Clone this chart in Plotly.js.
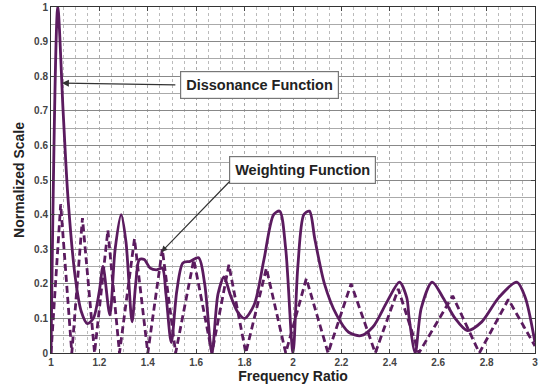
<!DOCTYPE html>
<html>
<head>
<meta charset="utf-8">
<script src="https://cdn.plot.ly/plotly-3.0.1.min.js"></script>
<style>html,body{margin:0;padding:0;background:#fff;}#chart{width:541px;height:387px;}</style>
</head>
<body>
<div id="chart"></div>
<script>
// Dissonance function (solid)
const dissX = [1.000,1.028,1.05,1.07,1.10,1.125,1.15,1.175,1.20,1.215,1.243,1.265,1.29,1.31,1.335,1.35,1.365,1.385,1.41,1.435,1.46,1.475,1.497,1.52,1.545,1.575,1.61,1.635,1.665,1.69,1.715,1.74,1.77,1.80,1.84,1.88,1.92,1.945,1.97,2.0,2.02,2.045,2.068,2.09,2.13,2.18,2.23,2.28,2.33,2.39,2.44,2.47,2.48,2.505,2.53,2.575,2.62,2.67,2.72,2.78,2.85,2.925,2.96,3.0];
const dissY = [0.0,1.0,0.70,0.45,0.22,0.12,0.085,0.10,0.18,0.25,0.11,0.30,0.40,0.32,0.09,0.20,0.27,0.27,0.245,0.24,0.245,0.17,0.03,0.18,0.26,0.265,0.275,0.20,0.0,0.17,0.22,0.17,0.12,0.10,0.14,0.27,0.40,0.41,0.30,0.0,0.25,0.40,0.41,0.33,0.20,0.11,0.06,0.05,0.075,0.15,0.205,0.16,0.10,0.0,0.13,0.205,0.16,0.10,0.065,0.09,0.16,0.205,0.16,0.03];
// Weighting function (dashed)
const weightX = [1.0,1.04,1.086,1.13,1.18,1.235,1.283,1.345,1.40,1.46,1.515,1.59,1.665,1.735,1.805,1.89,1.97,2.055,2.145,2.24,2.34,2.435,2.52,2.66,2.77,2.89,3.0];
const weightY = [0,0.43,0,0.39,0,0.355,0,0.33,0,0.30,0,0.27,0,0.255,0,0.245,0,0.215,0,0.20,0,0.185,0,0.165,0,0.155,0.02];
const xTicks = [1,1.2,1.4,1.6,1.8,2,2.2,2.4,2.6,2.8,3];
const xTickText = ['1','1.2','1.4','1.6','1.8','2','2.2','2.4','2.6','2.8','3'];
const yTicks = [0,0.1,0.2,0.3,0.4,0.5,0.6,0.7,0.8,0.9,1];
const yTickText = ['0','0.1','0.2','0.3','0.4','0.5','0.6','0.7','0.8','0.9','1'];

const purple = '#5b1b5f';
const traces = [
  {x: weightX, y: weightY, mode:'lines', line:{color:purple, width:2.8, dash:'7px,4px'}, hoverinfo:'skip'},
  {x: dissX, y: dissY, mode:'lines', line:{color:purple, width:2.8, shape:'spline', smoothing:0.8}, hoverinfo:'skip'}
];
const fam = 'Liberation Sans, Arial, sans-serif';
const layout = {
  width:541, height:387,
  margin:{l:51, r:6, t:7, b:34},
  paper_bgcolor:'#fff', plot_bgcolor:'#fff',
  showlegend:false,
  font:{family:fam, color:'#222'},
  xaxis:{range:[1,3], tickvals:xTicks, ticktext:xTickText, ticks:'inside', ticklen:4, tickcolor:'#444',
    showgrid:true, gridcolor:'#aaa', gridwidth:1, griddash:'dot',
    minor:{dtick:0.05, tick0:1, showgrid:true, gridcolor:'#bbb', griddash:'dot', gridwidth:1},
    showline:true, linecolor:'#333', linewidth:1, mirror:'ticks', zeroline:false,
    ticklabeloverflow:'allow',
    tickfont:{size:10, family:fam, color:'#444', weight:'bold'},
    title:{text:'Frequency Ratio', font:{size:14, family:fam, color:'#222', weight:'bold'}, standoff:2}},
  yaxis:{range:[0,1], tickvals:yTicks, ticktext:yTickText, ticks:'inside', ticklen:4, tickcolor:'#444',
    showgrid:true, gridcolor:'#888', gridwidth:1,
    minor:{dtick:0.05, tick0:0, showgrid:true, gridcolor:'#aaa', gridwidth:1},
    showline:true, linecolor:'#333', linewidth:1, mirror:'ticks', zeroline:false,
    tickfont:{size:10, family:fam, color:'#444', weight:'bold'},
    title:{text:'Normalized Scale', font:{size:14, family:fam, color:'#222', weight:'bold'}, standoff:6}},
  annotations:[
    {x:1.862, y:0.775, xref:'x', yref:'y', text:'<b>Dissonance Function</b>', showarrow:false,
     font:{size:14.5, family:fam, color:'#222'}, bgcolor:'#fff', bordercolor:'#777', borderwidth:1.2, borderpad:5},
    {x:1.045, y:0.78, xref:'x', yref:'y', text:'', showarrow:true, axref:'x', ayref:'y', ax:1.52, ay:0.775,
     arrowhead:2, arrowsize:1, arrowwidth:1.4, arrowcolor:'#333', standoff:0, startstandoff:0},
    {x:2.04, y:0.529, xref:'x', yref:'y', text:'<b>Weighting Function</b>', showarrow:false,
     font:{size:14.5, family:fam, color:'#222'}, bgcolor:'#fff', bordercolor:'#777', borderwidth:1.2, borderpad:5},
    {x:1.456, y:0.292, xref:'x', yref:'y', text:'', showarrow:true, axref:'x', ayref:'y', ax:1.744, ay:0.5,
     arrowhead:2, arrowsize:1, arrowwidth:1.2, arrowcolor:'#333', standoff:0, startstandoff:0}
  ]
};
Plotly.newPlot('chart', traces, layout, {staticPlot:true, displayModeBar:false});
</script>
</body>
</html>
